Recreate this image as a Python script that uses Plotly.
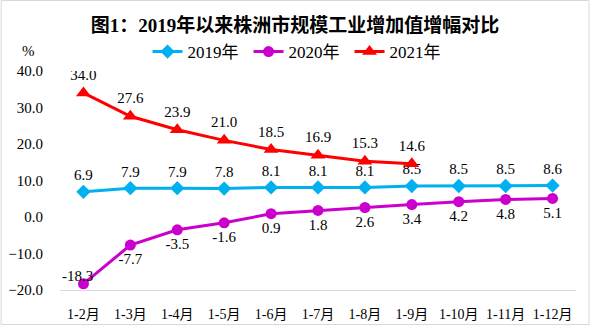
import plotly.graph_objects as go

categories = ["1-2月", "1-3月", "1-4月", "1-5月", "1-6月", "1-7月", "1-8月", "1-9月", "1-10月", "1-11月", "1-12月"]
v2019 = [6.9, 7.9, 7.9, 7.8, 8.1, 8.1, 8.1, 8.5, 8.5, 8.5, 8.6]
v2020 = [-18.3, -7.7, -3.5, -1.6, 0.9, 1.8, 2.6, 3.4, 4.2, 4.8, 5.1]
v2021 = [34.0, 27.6, 23.9, 21.0, 18.5, 16.9, 15.3, 14.6]

FONT = "Liberation Serif, 'Noto Sans CJK SC', serif"
NUM = 15

fig = go.Figure()
fig.add_trace(go.Scatter(
    x=categories, y=v2019, name="2019年", mode="lines+markers+text",
    line=dict(color="#00B0F0", width=3),
    marker=dict(symbol="diamond", size=11, color="#00B0F0"),
    text=[f"{v:.1f}" for v in v2019], textposition="top center",
    textfont=dict(size=NUM, color="#000000", family=FONT),
))
text2020 = [""] + [f"{v:.1f}" for v in v2020[1:]]
fig.add_trace(go.Scatter(
    x=categories, y=v2020, name="2020年", mode="lines+markers+text",
    line=dict(color="#CC00CC", width=3),
    marker=dict(symbol="circle", size=11, color="#CC00CC"),
    text=text2020, textposition="bottom center",
    textfont=dict(size=NUM, color="#000000", family=FONT),
))
fig.add_trace(go.Scatter(
    x=categories[:len(v2021)], y=v2021, name="2021年", mode="lines+markers+text",
    line=dict(color="#FF0000", width=3),
    marker=dict(symbol="triangle-up", size=13, color="#FF0000"),
    text=[f"{v:.1f}" for v in v2021], textposition="top center",
    textfont=dict(size=NUM, color="#000000", family=FONT),
))

# first 2020 label sits up-left of its marker
fig.add_annotation(x=categories[0], y=v2020[0], text=f"{v2020[0]:.1f}", showarrow=False,
                   xshift=-6, yshift=8, yanchor="middle", xanchor="center",
                   font=dict(size=NUM, color="#000000", family=FONT))

L, R, T, B = 59.5, 13.5, 71, 35
W, H = 590, 325
pw, ph = W - L - R, H - T - B

fig.update_layout(
    width=W, height=H,
    margin=dict(l=L, r=R, t=T, b=B, pad=0, autoexpand=False),
    paper_bgcolor="white", plot_bgcolor="white",
    font=dict(family=FONT, size=14, color="#000000"),
    title=dict(text="<b>图1：2019年以来株洲市规模工业增加值增幅对比</b>",
               x=0.5, xanchor="center", y=1 - 25 / H, yanchor="middle",
               font=dict(size=19, family=FONT, color="#000000")),
    legend=dict(orientation="h", x=(299 - L) / pw, xref="paper",
                xanchor="center", y=1 + (T - 52) / ph, yanchor="middle",
                font=dict(size=17, family=FONT), itemwidth=30,
                entrywidth=56, entrywidthmode="pixels", bgcolor="rgba(0,0,0,0)"),
    xaxis=dict(type="category", range=[-0.5, 10.5], showgrid=False, showline=True,
               linecolor="#D9D9D9", linewidth=1, ticks="", tickfont=dict(size=14),
               zeroline=False, ticklabelstandoff=11, automargin=False),
    yaxis=dict(range=[-20, 40], dtick=10, tickformat=".1f", showgrid=False,
               showline=False, zeroline=False, ticks="", tickfont=dict(size=NUM),
               ticklabelstandoff=16, automargin=False),
    showlegend=True,
)

fig.add_annotation(text="%", xref="paper", yref="paper",
                   x=(28 - L) / pw, y=(H - B - 51) / ph, showarrow=False,
                   font=dict(size=NUM, family=FONT), xanchor="center", yanchor="middle")

fig.add_shape(type="rect", xref="paper", yref="paper",
              x0=(0.5 - L) / pw, x1=(W - 0.5 - L) / pw,
              y0=(H - B - (H - 0.5)) / ph, y1=(H - B - 0.5) / ph,
              line=dict(color="#D9D9D9", width=1), fillcolor="rgba(0,0,0,0)", layer="above")

fig.write_html("out.html")
